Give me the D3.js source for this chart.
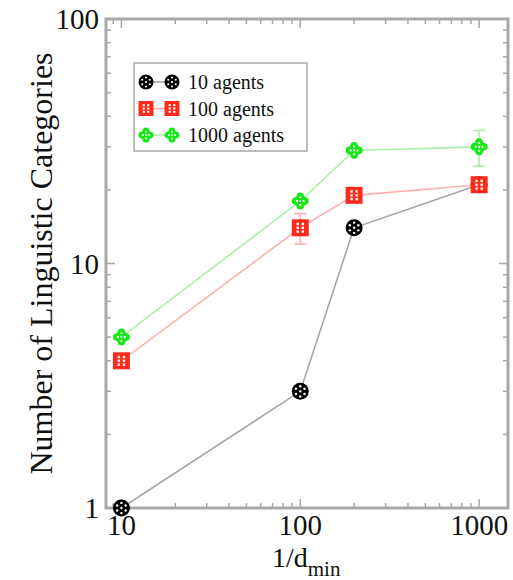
<!DOCTYPE html>
<html>
<head>
<meta charset="utf-8">
<script src="https://cdn.jsdelivr.net/npm/d3@7"></script>
<style>
  html, body { margin: 0; padding: 0; background: #fff; }
  svg { display: block; }
  text { font-family: "Liberation Serif", "DejaVu Serif", serif; fill: #111; }
</style>
</head>
<body>
<svg id="chart" width="513" height="580"></svg>
<script>
// Resolution values (1/d_min) on the horizontal axis
const resolutions = [10, 100, 200, 1000];

// Number of linguistic categories per population size
const agents10 = [1, 3, 14, 21];
const agents100 = [4, 14, 19, 21];
const agents1000 = [5, 18, 29, 30];

// Error-bar half widths
const err10 = [0, 0, 0, 0];
const err100 = [0, 2, 0, 0];
const err1000 = [0, 0, 0, 5];

const seriesNames = ["10 agents", "100 agents", "1000 agents"];
const xTickLabels = [10, 100, 1000];
const yTickLabels = [1, 10, 100];

const series = [
  { name: seriesNames[0], values: agents10, errs: err10, line: "#a6a6a6", fill: "#000000", shape: "circle" },
  { name: seriesNames[1], values: agents100, errs: err100, line: "#ffb0b0", fill: "#ff2a1a", shape: "square" },
  { name: seriesNames[2], values: agents1000, errs: err1000, line: "#a8f0a8", fill: "#18e818", shape: "cross" }
];

const svg = d3.select("#chart");
const margin = { left: 106, right: 5, top: 19, bottom: 72 };
const W = 513, H = 580;
const x = d3.scaleLog().domain([8.2, 1450]).range([margin.left, W - margin.right]);
const y = d3.scaleLog().domain([1, 100]).range([H - margin.bottom, margin.top]);

const axisColor = "#a9a9a9";
const x0 = margin.left, x1 = W - margin.right, y0 = H - margin.bottom, y1 = margin.top;

// Tick marks on all four sides, pointing inward
const xAll = x.ticks();
const yAll = y.ticks();
const isMajor = v => Math.abs(Math.log10(v) - Math.round(Math.log10(v))) < 1e-9;

const ticksG = svg.append("g").attr("stroke", axisColor).attr("stroke-width", 1.5);
xAll.forEach(v => {
  const len = isMajor(v) ? 9 : 5;
  const px = x(v);
  if (px < x0 + 2 || px > x1 - 2) return;
  ticksG.append("line").attr("x1", px).attr("x2", px).attr("y1", y0).attr("y2", y0 - len);
  ticksG.append("line").attr("x1", px).attr("x2", px).attr("y1", y1).attr("y2", y1 + len);
});
yAll.forEach(v => {
  const len = isMajor(v) ? 9 : 5;
  const py = y(v);
  if (py < y1 + 2 || py > y0 - 2) return;
  ticksG.append("line").attr("x1", x0).attr("x2", x0 + len).attr("y1", py).attr("y2", py);
  ticksG.append("line").attr("x1", x1).attr("x2", x1 - len).attr("y1", py).attr("y2", py);
});

// Frame
svg.append("rect")
  .attr("x", x0).attr("y", y1).attr("width", x1 - x0).attr("height", y0 - y1)
  .attr("fill", "none").attr("stroke", axisColor).attr("stroke-width", 3);

// Tick labels
svg.append("g").selectAll("text").data(xTickLabels).join("text")
  .attr("x", d => x(d)).attr("y", y0 + 27)
  .attr("text-anchor", "middle").attr("font-size", 29)
  .text(d => d);
svg.append("g").selectAll("text").data(yTickLabels).join("text")
  .attr("x", x0 - 7).attr("y", d => y(d) + 10)
  .attr("text-anchor", "end").attr("font-size", 29)
  .text(d => d);

// Axis titles
svg.append("text")
  .attr("transform", `translate(52,${(y0 + y1) / 2}) rotate(-90)`)
  .attr("text-anchor", "middle").attr("font-size", 32)
  .text("Number of Linguistic Categories");
const xt = svg.append("text").attr("x", 272).attr("y", 567).attr("font-size", 28);
xt.append("tspan").text("1/d");
xt.append("tspan").attr("font-size", 21).attr("dy", 9).text("min");

// Marker drawing
function drawMarker(g, shape, fill, s) {
  const r = s / 2;
  if (shape === "circle") {
    g.append("circle").attr("r", r).attr("fill", fill);
    const dots = [[0, 0], [-r * 0.5, -r * 0.3], [r * 0.5, -r * 0.3], [-r * 0.5, r * 0.3], [r * 0.5, r * 0.3], [0, -r * 0.6], [0, r * 0.6]];
    dots.forEach(([dx, dy]) => g.append("circle").attr("cx", dx).attr("cy", dy).attr("r", s * 0.07).attr("fill", "#fff"));
  } else if (shape === "square") {
    g.append("rect").attr("x", -r).attr("y", -r).attr("width", s).attr("height", s).attr("fill", fill);
    [-0.45, 0, 0.45].forEach(dy => [-0.3, 0.3].forEach(dx =>
      g.append("rect").attr("x", dx * r - s * 0.07).attr("y", dy * r - s * 0.07)
        .attr("width", s * 0.14).attr("height", s * 0.14).attr("fill", "#fff")));
  } else {
    const a = r * 0.55;
    g.append("circle").attr("r", r * 0.72).attr("fill", fill);
    [[0, -a], [0, a], [-a, 0], [a, 0]].forEach(([dx, dy]) =>
      g.append("circle").attr("cx", dx).attr("cy", dy).attr("r", r * 0.45).attr("fill", fill));
    [[0, -r * 0.45], [0, r * 0.45], [-r * 0.4, 0], [r * 0.4, 0], [0, 0]].forEach(([dx, dy]) =>
      g.append("circle").attr("cx", dx).attr("cy", dy).attr("r", s * 0.065).attr("fill", "#fff"));
  }
}

const line = d3.line().x(d => x(d[0])).y(d => y(d[1]));

// Lines, error bars and markers per series
series.forEach(sr => {
  const pts = resolutions.map((r, i) => [r, sr.values[i], sr.errs[i]]);
  svg.append("path").datum(pts).attr("d", line)
    .attr("fill", "none").attr("stroke", sr.line).attr("stroke-width", 1.6);
  const eg = svg.append("g").attr("stroke", sr.line).attr("stroke-width", 1.6);
  pts.filter(p => p[2] > 0).forEach(p => {
    const px = x(p[0]);
    const ya = y(p[1] + p[2]), yb = y(p[1] - p[2]);
    eg.append("line").attr("x1", px).attr("x2", px).attr("y1", ya).attr("y2", yb);
    eg.append("line").attr("x1", px - 6).attr("x2", px + 6).attr("y1", ya).attr("y2", ya);
    eg.append("line").attr("x1", px - 6).attr("x2", px + 6).attr("y1", yb).attr("y2", yb);
  });
});
series.forEach(sr => {
  resolutions.forEach((r, i) => {
    const g = svg.append("g").attr("transform", `translate(${x(r)},${y(sr.values[i])})`);
    drawMarker(g, sr.shape, sr.fill, 17);
  });
});

// Legend
const lg = svg.append("g");
lg.append("rect").attr("x", 134).attr("y", 63).attr("width", 173).attr("height", 88)
  .attr("fill", "#fff").attr("stroke", axisColor).attr("stroke-width", 1.5);
series.forEach((sr, i) => {
  const cy = 82 + i * 26.5;
  lg.append("line").attr("x1", 146).attr("x2", 172).attr("y1", cy).attr("y2", cy)
    .attr("stroke", sr.line).attr("stroke-width", 1.6);
  [146, 172].forEach(cx => {
    const g = lg.append("g").attr("transform", `translate(${cx},${cy})`);
    drawMarker(g, sr.shape, sr.fill, 15);
  });
  lg.append("text").attr("x", 188).attr("y", cy + 7).attr("font-size", 20).text(sr.name);
});
</script>
</body>
</html>
